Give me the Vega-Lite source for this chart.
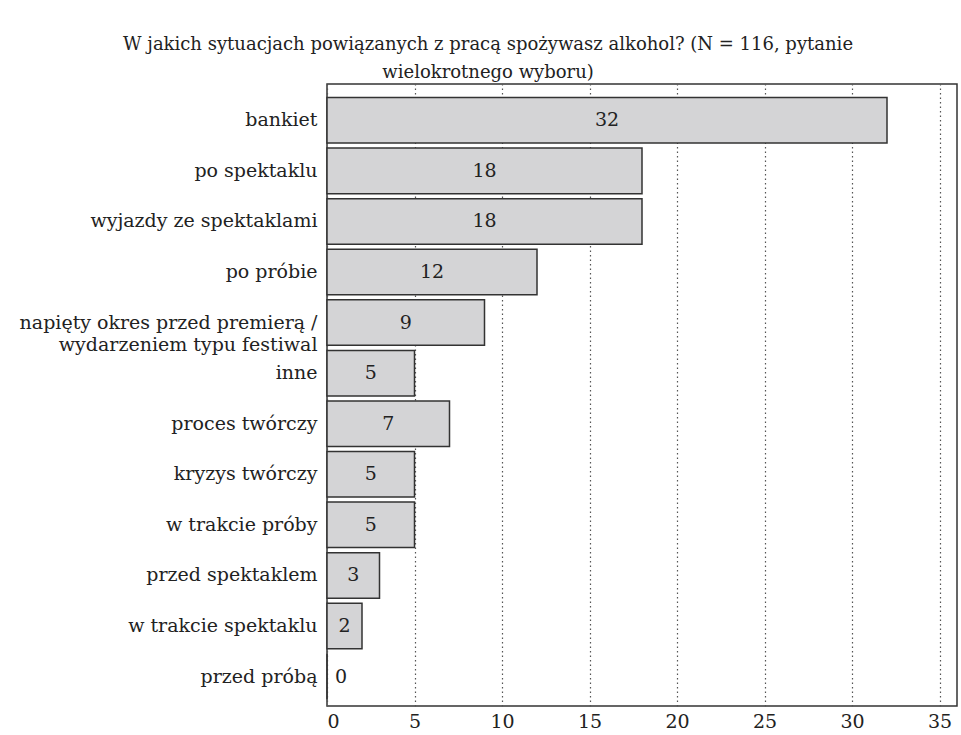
{
  "$schema": "https://vega.github.io/schema/vega-lite/v6.json",
  "width": 630,
  "height": 622,
  "padding": {"left": 19, "top": 36, "right": 3, "bottom": 3},
  "background": "white",
  "title": {
    "text": ["W jakich sytuacjach powiązanych z pracą spożywasz alkohol? (N = 116, pytanie", "wielokrotnego wyboru)"],
    "font": "DejaVu Serif",
    "fontSize": 18,
    "fontWeight": "normal",
    "color": "#222",
    "anchor": "middle",
    "frame": "bounds",
    "lineHeight": 28,
    "offset": 2
  },
  "config": {
    "view": {"stroke": "#333", "strokeWidth": 1.5},
    "font": "DejaVu Serif"
  },
  "data": {
    "values": [
      {"sytuacja": "bankiet", "liczba": 32},
      {"sytuacja": "po spektaklu", "liczba": 18},
      {"sytuacja": "wyjazdy ze spektaklami", "liczba": 18},
      {"sytuacja": "po próbie", "liczba": 12},
      {"sytuacja": "napięty okres przed premierą / wydarzeniem typu festiwal", "liczba": 9},
      {"sytuacja": "inne", "liczba": 5},
      {"sytuacja": "proces twórczy", "liczba": 7},
      {"sytuacja": "kryzys twórczy", "liczba": 5},
      {"sytuacja": "w trakcie próby", "liczba": 5},
      {"sytuacja": "przed spektaklem", "liczba": 3},
      {"sytuacja": "w trakcie spektaklu", "liczba": 2},
      {"sytuacja": "przed próbą", "liczba": 0}
    ]
  },
  "encoding": {
    "y": {
      "field": "sytuacja",
      "type": "nominal",
      "sort": null,
      "title": null,
      "scale": {"paddingInner": 0.1, "paddingOuter": 0.2, "align": 0.67},
      "axis": {
        "ticks": false,
        "domain": false,
        "labelFont": "DejaVu Serif",
        "labelFontSize": 19,
        "labelColor": "#222",
        "labelPadding": 10,
        "labelLimit": 400,
        "labelLineHeight": 22,
        "labelExpr": "indexof(datum.label, ' / ') > 0 ? [substring(datum.label, 0, indexof(datum.label, ' / ') + 2), substring(datum.label, indexof(datum.label, ' / ') + 3)] : datum.label"
      }
    }
  },
  "layer": [
    {
      "mark": {"type": "bar", "fill": "#d4d4d6", "stroke": "#333", "strokeWidth": 1.5},
      "encoding": {
        "x": {
          "field": "liczba",
          "type": "quantitative",
          "title": null,
          "scale": {"domain": [0, 36], "nice": false},
          "axis": {
            "values": [0, 5, 10, 15, 20, 25, 30, 35],
            "ticks": false,
            "domain": false,
            "grid": true,
            "gridColor": "#555",
            "gridDash": [1.5, 3],
            "gridWidth": 1.2,
            "labelFont": "DejaVu Serif",
            "labelFontSize": 19,
            "labelColor": "#222",
            "labelPadding": 6
          }
        }
      }
    },
    {
      "transform": [{"filter": "datum.liczba > 0"}, {"calculate": "datum.liczba / 2", "as": "srodek"}],
      "mark": {"type": "text", "font": "DejaVu Serif", "fontSize": 19, "color": "#222", "align": "center", "baseline": "middle"},
      "encoding": {
        "x": {"field": "srodek", "type": "quantitative"},
        "text": {"field": "liczba", "type": "quantitative"}
      }
    },
    {
      "transform": [{"filter": "datum.liczba == 0"}],
      "mark": {"type": "text", "font": "DejaVu Serif", "fontSize": 19, "color": "#222", "align": "left", "baseline": "middle", "dx": 8},
      "encoding": {
        "x": {"field": "liczba", "type": "quantitative"},
        "text": {"field": "liczba", "type": "quantitative"}
      }
    }
  ]
}
